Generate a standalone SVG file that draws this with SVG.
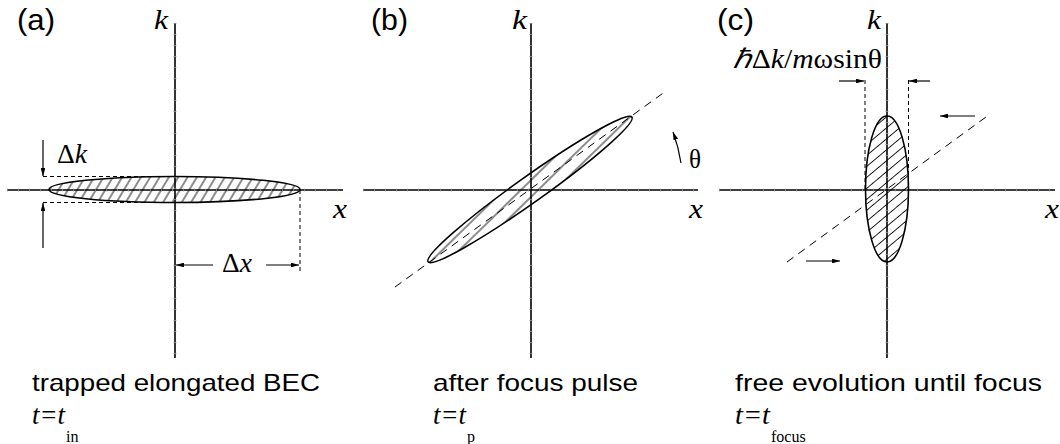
<svg xmlns="http://www.w3.org/2000/svg" width="1060" height="444" viewBox="0 0 1060 444">
<style>
.ax{stroke:#000;stroke-width:1.6;fill:none}
.tk{stroke:#999;stroke-width:3;stroke-dasharray:0.7 10.3;fill:none}
.el{stroke:#000;stroke-width:1.6}
.ds{stroke:#000;stroke-width:1;stroke-dasharray:4 3;fill:none}
.dl{stroke:#000;stroke-width:1;stroke-dasharray:8 6;fill:none}
.ar{stroke:#000;stroke-width:1.2;fill:none;marker-end:url(#ah)}
.sans{font-family:"Liberation Sans",Arial,sans-serif;fill:#000}
.serif{font-family:"Liberation Serif","Times New Roman",serif;fill:#000}
.it{font-style:italic}
</style>
<defs>
<marker id="ah" viewBox="0 0 10 6" refX="10" refY="3" markerWidth="8" markerHeight="4.8" markerUnits="userSpaceOnUse" orient="auto">
<path d="M0,0 L10,3 L0,6 Z" fill="#000"/>
</marker>
<pattern id="hA" patternUnits="userSpaceOnUse" width="20" height="8" patternTransform="rotate(-59)">
<line x1="0" y1="4" x2="20" y2="4" stroke="#000" stroke-width="0.9"/>
</pattern>
<pattern id="hB" patternUnits="userSpaceOnUse" width="20" height="12" patternTransform="rotate(-9)">
<line x1="0" y1="6" x2="20" y2="6" stroke="#000" stroke-width="0.9"/>
</pattern>
<pattern id="hC" patternUnits="userSpaceOnUse" width="20" height="8.4" patternTransform="rotate(-40)">
<line x1="0" y1="4.2" x2="20" y2="4.2" stroke="#000" stroke-width="0.9"/>
</pattern>
</defs>

<g id="panel-a">
<ellipse cx="174.5" cy="189.5" rx="125.5" ry="13" fill="url(#hA)" stroke="none"/>
<line class="ax" x1="175" y1="23" x2="175" y2="358"/>
<line class="ax" x1="7" y1="190" x2="343" y2="190"/>
<line class="tk" x1="175" y1="23" x2="175" y2="358"/>
<line class="tk" x1="7" y1="190" x2="343" y2="190"/>
<ellipse class="el" cx="174.5" cy="189.5" rx="125.5" ry="13" fill="none"/>
<line class="ds" x1="43" y1="176.5" x2="175" y2="176.5"/>
<line class="ds" x1="43" y1="202.5" x2="175" y2="202.5"/>
<line class="ds" x1="300" y1="190" x2="300" y2="272"/>
<text class="sans" x="17" y="30" font-size="29" textLength="38" lengthAdjust="spacingAndGlyphs">(a)</text>
<text class="serif it" x="154" y="29" font-size="27" textLength="14" lengthAdjust="spacingAndGlyphs">k</text>
<text class="serif it" x="333" y="218" font-size="27" textLength="14" lengthAdjust="spacingAndGlyphs">x</text>
<text class="serif" x="57" y="163" font-size="27" textLength="30" lengthAdjust="spacingAndGlyphs">Δ<tspan class="it">k</tspan></text>
<text class="serif" x="222" y="272" font-size="27" textLength="30" lengthAdjust="spacingAndGlyphs">Δ<tspan class="it">x</tspan></text>
<text class="sans" x="32" y="391" font-size="24" textLength="288" lengthAdjust="spacingAndGlyphs">trapped elongated BEC</text>
<text class="serif it" x="32" y="424" font-size="27" textLength="33" lengthAdjust="spacingAndGlyphs">t=t</text>
<text class="serif" x="66" y="442" font-size="16">in</text>
</g>

<g id="panel-b">
<ellipse cx="0" cy="0" rx="125" ry="13" transform="translate(530,189.5) rotate(-35.4)" fill="url(#hB)" stroke="none"/>
<line class="ax" x1="531" y1="23" x2="531" y2="358"/>
<line class="ax" x1="363" y1="190" x2="698" y2="190"/>
<line class="tk" x1="531" y1="23" x2="531" y2="358"/>
<line class="tk" x1="363" y1="190" x2="698" y2="190"/>
<line class="dl" x1="395" y1="287" x2="666" y2="91"/>
<ellipse class="el" cx="0" cy="0" rx="125" ry="13" transform="translate(530,189.5) rotate(-35.4)" fill="none"/>
<text class="sans" x="371" y="30" font-size="29" textLength="37" lengthAdjust="spacingAndGlyphs">(b)</text>
<text class="serif it" x="512" y="29" font-size="27" textLength="15" lengthAdjust="spacingAndGlyphs">k</text>
<text class="serif it" x="689" y="218" font-size="27" textLength="14" lengthAdjust="spacingAndGlyphs">x</text>
<text class="serif" x="689" y="168" font-size="27" textLength="12" lengthAdjust="spacingAndGlyphs">θ</text>
<text class="sans" x="433" y="391" font-size="24" textLength="205" lengthAdjust="spacingAndGlyphs">after focus pulse</text>
<text class="serif it" x="433" y="424" font-size="27" textLength="33" lengthAdjust="spacingAndGlyphs">t=t</text>
<text class="serif" x="467" y="442" font-size="16">p</text>
</g>

<g id="panel-c">
<ellipse cx="887" cy="189" rx="21.5" ry="73" fill="url(#hC)" stroke="none"/>
<line class="ax" x1="887" y1="23" x2="887" y2="358"/>
<line class="ax" x1="719" y1="190" x2="1055" y2="190"/>
<line class="tk" x1="887" y1="23" x2="887" y2="358"/>
<line class="tk" x1="719" y1="190" x2="1055" y2="190"/>
<line class="dl" x1="787" y1="262" x2="986" y2="117"/>
<line class="ds" x1="865" y1="80" x2="865" y2="190"/>
<line class="ds" x1="908.5" y1="80" x2="908.5" y2="190"/>
<ellipse class="el" cx="887" cy="189" rx="21.5" ry="73" fill="none"/>
<text class="sans" x="717" y="30" font-size="29" textLength="37" lengthAdjust="spacingAndGlyphs">(c)</text>
<text class="serif it" x="867" y="29" font-size="27" textLength="14" lengthAdjust="spacingAndGlyphs">k</text>
<text class="serif it" x="1045" y="218" font-size="27" textLength="14" lengthAdjust="spacingAndGlyphs">x</text>
<text class="serif" x="733" y="68" font-size="27" textLength="149" lengthAdjust="spacingAndGlyphs"><tspan class="it">ℏ</tspan>Δ<tspan class="it">k</tspan>/<tspan class="it">m</tspan>ωsinθ</text>
<text class="sans" x="735" y="391" font-size="24" textLength="307" lengthAdjust="spacingAndGlyphs">free evolution until focus</text>
<text class="serif it" x="735" y="424" font-size="27" textLength="35" lengthAdjust="spacingAndGlyphs">t=t</text>
<text class="serif" x="771" y="442" font-size="16">focus</text>
</g>

<g id="connectors">
<line class="ar" x1="43" y1="140" x2="43" y2="176"/>
<line class="ar" x1="43" y1="248" x2="43" y2="203"/>
<line class="ar" x1="213" y1="265" x2="176" y2="265"/>
<line class="ar" x1="266" y1="265" x2="299" y2="265"/>
<path class="ar" d="M681,163 A152,152 0 0 0 673,132"/>
<line class="ar" x1="839" y1="81" x2="864" y2="81"/>
<line class="ar" x1="930" y1="81" x2="909" y2="81"/>
<line class="ar" x1="975" y1="116" x2="940" y2="116"/>
<line class="ar" x1="806" y1="261" x2="840" y2="261"/>
</g>
</svg>
